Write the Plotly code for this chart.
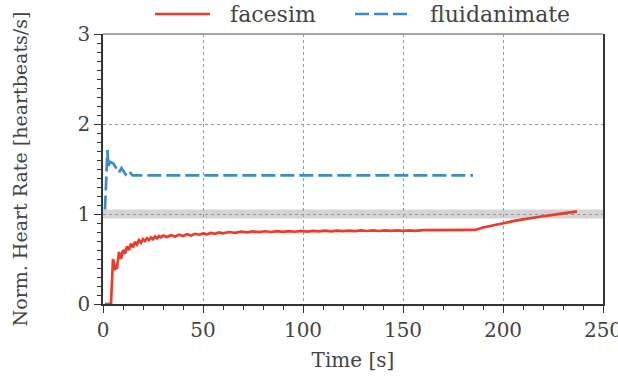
import plotly.graph_objects as go

# facesim normalized heart rate over time
facesim_t = [1, 2, 3, 4, 5, 6, 7, 8, 9, 10, 11, 12, 13, 14, 15, 16, 17, 18, 19, 20,
             21, 22, 23, 24, 25, 26, 27, 28, 29, 30, 32, 34, 36, 38, 40, 42, 44, 46, 48, 50,
             52, 54, 56, 58, 60, 63, 66, 69, 72, 75, 78, 81, 84, 87, 90, 93, 96, 99, 102, 105,
             108, 111, 114, 117, 120, 123, 126, 129, 132, 135, 138, 141, 144, 147, 150, 153, 156,
             160, 165, 170, 175, 180, 186, 190, 195, 200, 205, 210, 215, 220, 225, 230, 237]
facesim_y = [0.0, 0.0, 0.0, 0.01, 0.50, 0.39, 0.40, 0.58, 0.50, 0.60, 0.56, 0.64, 0.60, 0.67, 0.63, 0.69, 0.66, 0.71, 0.68, 0.72,
             0.70, 0.73, 0.71, 0.74, 0.72, 0.75, 0.73, 0.755, 0.74, 0.76, 0.745, 0.765, 0.75, 0.77, 0.755, 0.775, 0.76, 0.78, 0.77, 0.785,
             0.775, 0.79, 0.78, 0.795, 0.785, 0.80, 0.79, 0.803, 0.795, 0.807, 0.798, 0.808, 0.80, 0.81, 0.802, 0.81, 0.803, 0.812, 0.805, 0.812,
             0.806, 0.815, 0.808, 0.815, 0.81, 0.816, 0.81, 0.817, 0.811, 0.817, 0.811, 0.818, 0.812, 0.818, 0.812, 0.818, 0.813,
             0.82, 0.82, 0.82, 0.822, 0.822, 0.823, 0.85, 0.875, 0.90, 0.92, 0.94, 0.96, 0.975, 0.99, 1.005, 1.03]

# fluidanimate normalized heart rate over time
fluid_t = [1, 2.2, 2.7, 3.5, 5.2, 6.8, 8.0, 9.3, 11.3, 12.7, 14.8, 30, 60, 90, 120, 150, 185]
fluid_y = [1.05, 1.71, 1.53, 1.58, 1.56, 1.51, 1.46, 1.51, 1.44, 1.48, 1.43, 1.43, 1.43, 1.43, 1.43, 1.43, 1.43]

# target band around normalized rate 1
band_lo, band_hi = 0.95, 1.05

x_ticks = [0, 50, 100, 150, 200, 250]
y_ticks = [0, 1, 2, 3]

series = [
    dict(name="facesim", x=facesim_t, y=facesim_y, color="#ee3a2a", dash="solid"),
    dict(name="fluidanimate", x=fluid_t, y=fluid_y, color="#3b8bc4", dash="14px,5px"),
]

FONT = "DejaVu Serif"
TXT = "#444444"
AX = "#333333"

fig = go.Figure()
for s in series:
    fig.add_trace(go.Scatter(x=s["x"], y=s["y"], mode="lines", name=s["name"],
                             showlegend=False,
                             line=dict(color=s["color"], width=2.7, dash=s["dash"])))

fig.add_shape(type="rect", xref="paper", yref="y", x0=0, x1=1, y0=band_lo, y1=band_hi,
              fillcolor="#d4d4d4", line_width=0, layer="below")
fig.add_shape(type="line", xref="paper", yref="paper", x0=0, x1=1, y0=1, y1=1,
              line=dict(color="#8a8a8a", width=1.5))

# legend row above the plot area: line sample + label per series
legend_y = 1.074
for i, s in enumerate(series):
    x0 = 0.104 + 0.4 * i
    fig.add_shape(type="line", xref="paper", yref="paper", x0=x0, x1=x0 + 0.11,
                  y0=legend_y, y1=legend_y,
                  line=dict(color=s["color"], width=2.7, dash=s["dash"]))
    fig.add_annotation(xref="paper", yref="paper", x=x0 + 0.146, y=legend_y,
                       xanchor="left", yanchor="middle", showarrow=False,
                       text=s["name"], font=dict(family=FONT, size=22, color=TXT))

fig.update_layout(
    width=618, height=377,
    margin=dict(l=103, r=15, t=34, b=73, autoexpand=False),
    paper_bgcolor="white", plot_bgcolor="white",
    font=dict(family=FONT, size=20, color=TXT),
    showlegend=False,
)
fig.update_xaxes(
    range=[0, 250], tickvals=x_ticks, ticks="outside", ticklen=7, tickwidth=1.2,
    tickcolor=AX, showline=True, linecolor=AX, linewidth=1.5, mirror=False,
    showgrid=True, gridcolor="#9a9a9a", griddash="dot", gridwidth=1, zeroline=False,
    minor=dict(dtick=10, ticks="outside", ticklen=4, tickcolor=AX, showgrid=False),
    title=dict(text="Time [s]", font=dict(family=FONT, size=20, color=TXT), standoff=12),
    tickfont=dict(family=FONT, size=20, color=TXT), automargin=False,
    ticklabeloverflow="allow",
)
fig.update_yaxes(
    range=[0, 3], tickvals=y_ticks, ticks="outside", ticklen=7, tickwidth=1.2,
    tickcolor=AX, showline=True, linecolor=AX, linewidth=1.5, mirror=True,
    showgrid=True, gridcolor="#9a9a9a", griddash="dot", gridwidth=1, zeroline=False,
    minor=dict(dtick=0.1, ticks="outside", ticklen=4, tickcolor=AX, showgrid=False),
    title=dict(text="Norm. Heart Rate [heartbeats/s]", font=dict(family=FONT, size=19, color=TXT), standoff=45),
    tickfont=dict(family=FONT, size=20, color=TXT), automargin=False,
    ticklabeloverflow="allow",
)

fig.write_html("out.html")
